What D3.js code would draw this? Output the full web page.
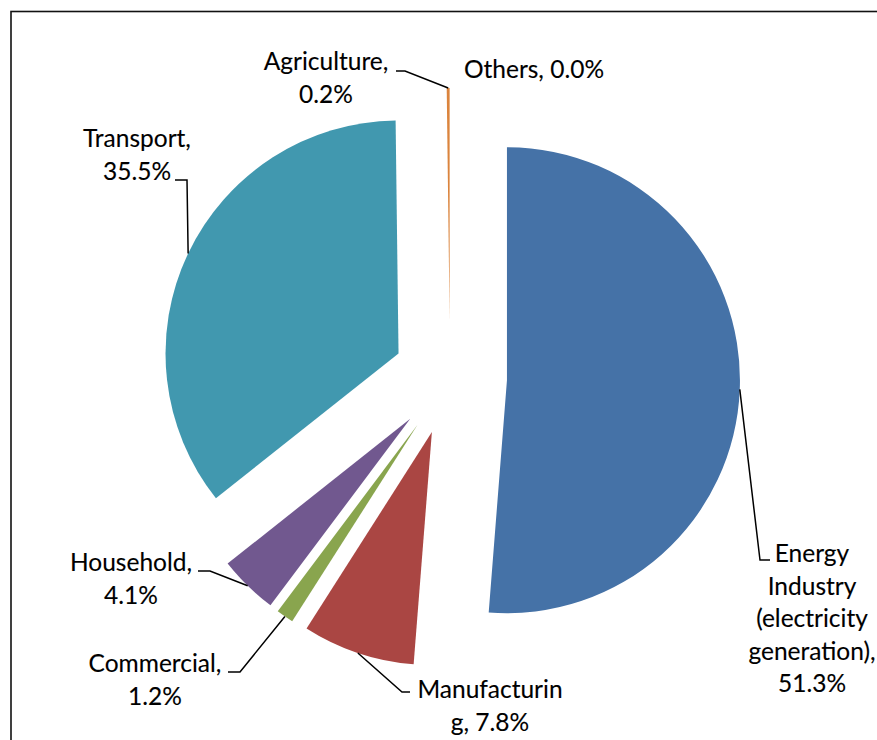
<!DOCTYPE html>
<html>
<head>
<meta charset="utf-8">
<script src="https://cdn.jsdelivr.net/npm/d3@7"></script>
<style>
  html, body { margin: 0; padding: 0; background: #fff; }
  svg { display: block; }
  text { font-family: Lato, "Open Sans", sans-serif; fill: #000; stroke: #000; stroke-width: 0.12px; }
</style>
</head>
<body>
<svg id="chart" width="877" height="740"></svg>
<script>
// CO2 emissions share by sector (%)
const categories = [
  "Energy Industry (electricity generation)",
  "Manufacturing",
  "Commercial",
  "Household",
  "Transport",
  "Agriculture",
  "Others"
];
const values = [51.3, 7.8, 1.2, 4.1, 35.5, 0.2, 0.0];
const colors = ["#4572A7", "#AA4643", "#89A54E", "#71588F", "#4198AF", "#DB843D", "#93A9CF"];

// How each data label is broken into lines (text of "<category>, <value>%")
const labelBreaks = [
  ["Energy", "Industry", "(electricity", "generation),", "{v}"],
  ["Manufacturin", "g, {v}"],
  ["Commercial,", "{v}"],
  ["Household,", "{v}"],
  ["Transport,", "{v}"],
  ["Agriculture,", "{v}"],
  ["Others, {v}"]
];

// Label placement: center x, first baseline y, and the elbow of the leader line
const labelLayout = [
  { x: 812, y: 562, elbow: [760, 560], stub: [770, 560] },
  { x: 490, y: 698, elbow: [402, 692], stub: [410, 692] },
  { x: 155, y: 672, elbow: [240, 672], stub: [228, 672] },
  { x: 131, y: 571, elbow: [210, 571], stub: [198, 571] },
  { x: 137, y: 147, elbow: [187, 180], stub: [175, 180] },
  { x: 326, y: 70,  elbow: [405, 71],  stub: [396, 71] },
  { x: 534, y: 78,  elbow: null, stub: null }
];

const svg = d3.select("#chart");
const W = 877, H = 740;
const cx = 450, cy = 378, R = 233, explode = 57;
const lineGap = 32.5;

// Chart frame
svg.append("rect")
  .attr("x", 11).attr("y", 11.5)
  .attr("width", W + 20).attr("height", H + 20)
  .attr("fill", "none").attr("stroke", "#111").attr("stroke-width", 1.6);

const pie = d3.pie().sort(null).value(d => d)(values);
const arc = d3.arc().innerRadius(0).outerRadius(R);

const g = svg.append("g").attr("transform", `translate(${cx},${cy})`);

function offset(d, r) {
  const a = (d.startAngle + d.endAngle) / 2;
  return [Math.sin(a) * r, -Math.cos(a) * r];
}

g.selectAll("path.slice")
  .data(pie)
  .join("path")
  .attr("class", "slice")
  .attr("d", arc)
  .attr("fill", (d, i) => colors[i])
  .attr("transform", d => {
    const [dx, dy] = offset(d, explode);
    return `translate(${dx},${dy})`;
  });

// Leader lines from the outer edge of each exploded slice to its label
pie.forEach((d, i) => {
  const L = labelLayout[i];
  if (!L.elbow) return;
  const [ox, oy] = offset(d, explode + R);
  const pts = [[cx + ox, cy + oy], L.elbow, L.stub];
  svg.append("path")
    .attr("d", d3.line()(pts))
    .attr("fill", "none")
    .attr("stroke", "#000")
    .attr("stroke-width", 1.5);
});

// Data labels
const fmt = d3.format(".1f");
pie.forEach((d, i) => {
  const L = labelLayout[i];
  const lines = labelBreaks[i].map(s => s.replace("{v}", fmt(values[i]) + "%"));
  const t = svg.append("text")
    .attr("text-anchor", "middle")
    .attr("font-size", 24.5);
  lines.forEach((s, k) => {
    t.append("tspan").attr("x", L.x).attr("y", L.y + k * lineGap).text(s);
  });
});
</script>
</body>
</html>
